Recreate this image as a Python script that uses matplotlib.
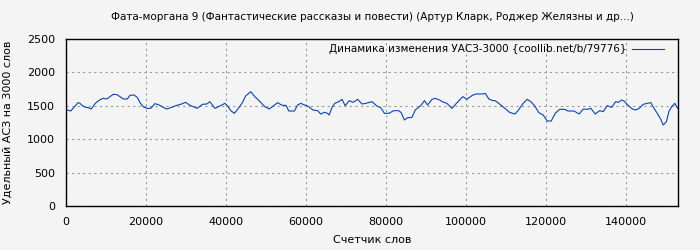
import matplotlib
matplotlib.use('Agg')
import matplotlib.pyplot as plt

# points (word counter, value)
words = [333, 1170, 2000, 3000, 3500, 4100, 4900, 5500, 6300, 7200, 7800, 8700, 9300,
         10200, 11000, 11800, 12700, 13500, 14300, 15300, 16000, 17000, 17800, 18500,
         19300, 20200, 21200, 22200, 23300, 24300, 25200, 26400, 27700, 28900, 29900,
         31000, 31800, 32800, 34100, 35200, 36000, 36400, 37200, 38100, 39100, 39700,
         40400, 41200, 42100, 43100, 44100, 44900, 46200, 47200, 48500, 49700, 50800,
         51800, 52900, 54000, 55000, 55700, 57100, 57900, 58700, 59600, 60700, 61700,
         62900, 63700, 64600, 65400, 65800, 66500, 67200, 68200, 69000, 69800, 70800,
         71800, 72900, 74000, 75000, 76500, 77700, 78700, 79600, 80700, 81900, 83200,
         83800, 84600, 85400, 86500, 87300, 88600, 89600, 90400, 91500, 92300, 93400,
         94200, 95200, 96500, 97600, 99200, 100200, 101700, 102600, 104200, 104800,
         105700, 106700, 107300, 108400, 109700, 110900, 112200, 113000, 114300, 115300,
         116200, 117200, 118200, 119300, 120300, 121300, 122300, 123400, 124700, 125500,
         127000, 128300, 129300, 130300, 131200, 132300, 133400, 134300, 135300, 136400,
         137400, 138100, 138900, 139500, 140600, 141600, 142400, 143300, 144300, 145300,
         146200, 147000, 147800, 148700, 149300, 150100, 150700, 151400, 152200, 152900]
uasz = [1437, 1422, 1477, 1547, 1537, 1502, 1477, 1472, 1452, 1527, 1562, 1597, 1612,
        1602, 1637, 1672, 1667, 1637, 1602, 1602, 1657, 1662, 1627, 1547,
        1487, 1462, 1462, 1532, 1512, 1477, 1452, 1477, 1507, 1527, 1552,
        1507, 1487, 1462, 1522, 1527, 1562, 1527, 1462, 1487, 1517, 1537,
        1497, 1427, 1387, 1462, 1547, 1647, 1712, 1637, 1562, 1487, 1452,
        1497, 1547, 1507, 1507, 1422, 1422, 1512, 1537, 1512, 1487, 1437,
        1427, 1377, 1402, 1387, 1362, 1477, 1537, 1562, 1597, 1502, 1577,
        1552, 1597, 1527, 1537, 1562, 1497, 1472, 1387, 1387, 1427, 1427,
        1397, 1287, 1322, 1327, 1437, 1497, 1577, 1512, 1597, 1612, 1587,
        1557, 1537, 1462, 1537, 1637, 1597, 1662, 1677, 1677, 1687,
        1602, 1577, 1577, 1527, 1462, 1402, 1377, 1427, 1537, 1597,
        1562, 1497, 1397, 1362, 1272, 1272, 1387, 1447, 1447, 1422,
        1422, 1377, 1452, 1447, 1462, 1377, 1427, 1412, 1502, 1477,
        1562, 1552, 1587, 1572, 1502, 1452, 1437, 1462, 1522, 1537,
        1547, 1462, 1387, 1297, 1212, 1262, 1412, 1487, 1537, 1462]

title = 'Фата-моргана 9 (Фантастические рассказы и повести) (Артур Кларк, Роджер Желязны и др...)'
legend_label = 'Динамика изменения УАСЗ-3000 {coollib.net/b/79776}'

bg = '#f4f4f4'
fig = plt.figure(figsize=(7, 2.5), dpi=100, facecolor=bg)
ax = fig.add_axes([0.0943, 0.176, 0.8743, 0.668], facecolor=bg)

ax.plot(words, uasz, color='#0844b4', linewidth=0.8, label=legend_label)

ax.set_xlim(0, 153000)
ax.set_ylim(0, 2500)
ax.set_xticks([0, 20000, 40000, 60000, 80000, 100000, 120000, 140000])
ax.set_yticks([0, 500, 1000, 1500, 2000, 2500])
ax.tick_params(axis='x', labelsize=8, length=0, pad=8)
ax.tick_params(axis='y', labelsize=8, length=0, pad=8)
ax.grid(True, color='#999999', linestyle=(0, (2, 3)), linewidth=0.8)
for s in ax.spines.values():
    s.set_linewidth(1.0)

ax.set_xlabel('Счетчик слов', fontsize=8, labelpad=6)
ax.set_ylabel('Удельный АСЗ на 3000 слов', fontsize=8, labelpad=10)
ax.set_title(title, fontsize=7.5, pad=14)

leg = ax.legend(loc='upper right', bbox_to_anchor=(0.985, 1.0), frameon=False,
                fontsize=7.5, markerfirst=False, handlelength=3.0,
                borderaxespad=0.3, handletextpad=0.6, borderpad=0.2)

fig.savefig('out.png', dpi=100, facecolor=bg)
